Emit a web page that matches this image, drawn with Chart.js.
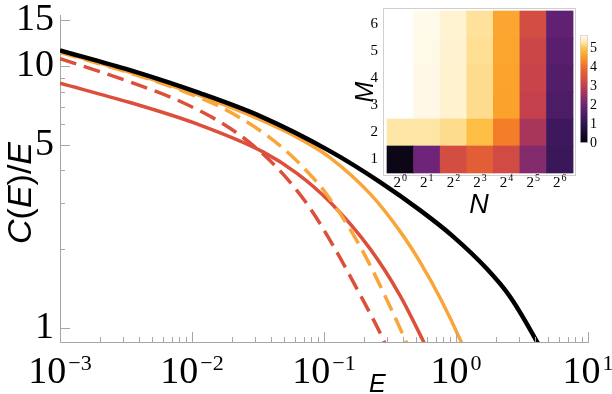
<!DOCTYPE html>
<html>
<head>
<meta charset="utf-8">
<script src="https://cdn.jsdelivr.net/npm/chart.js@4.4.1/dist/chart.umd.min.js"></script>
<style>
  html, body { margin: 0; padding: 0; background: #fff; }
  #wrap { position: relative; width: 612px; height: 394px; overflow: hidden; }
  #wrap canvas { position: absolute; }
</style>
</head>
<body>
<div id="wrap">
  <canvas id="main" width="612" height="394" style="left:0;top:0"></canvas>
  <canvas id="heat" width="240" height="220" style="left:340px;top:0"></canvas>
  <canvas id="cbar" width="42" height="160" style="left:570px;top:20px"></canvas>
</div>
<script>
// curves: E on x, C(E)/E on y
const blackE = [0.001, 0.00339, 0.0115, 0.0328, 0.111, 0.266, 0.533, 0.948, 1.72, 2.56, 4.11, 5.0];
const blackC = [11.5, 9.66, 7.89, 6.45, 4.74, 3.61, 2.82, 2.24, 1.68, 1.32, 0.885, 0.73];
const orangeE = [0.001, 0.00339, 0.0115, 0.0328, 0.0658, 0.111, 0.223, 0.377, 0.533, 0.769, 1.13, 1.3];
const orangeC = [11.4, 9.48, 7.72, 6.25, 5.28, 4.48, 3.26, 2.34, 1.79, 1.285, 0.854, 0.72];
const orangeDashE = [0.001, 0.00339, 0.00811, 0.0194, 0.0465, 0.0826, 0.102, 0.157, 0.223, 0.411, 0.47];
const orangeDashC = [11.3, 9.43, 8.12, 6.69, 4.97, 3.75, 3.30, 2.39, 1.74, 0.905, 0.776];
const redE = [0.001, 0.00339, 0.0109, 0.0345, 0.0624, 0.111, 0.223, 0.377, 0.562, 0.65];
const redC = [8.61, 7.27, 6.02, 4.71, 3.90, 3.03, 2.01, 1.33, 0.896, 0.77];
const redDashE = [0.001, 0.00339, 0.00811, 0.0194, 0.0345, 0.0525, 0.0783, 0.117, 0.187, 0.280, 0.32];
const redDashC = [10.7, 8.71, 7.35, 5.80, 4.62, 3.72, 2.87, 2.07, 1.345, 0.906, 0.77];

// axis ticks
const xMajorTicks = [0.001, 0.01, 0.1, 1, 10];
const xExpLabels = ['\u22123', '\u22122', '\u22121', '0', '1'];
const xMinorMant = [2, 3, 4, 5, 6, 7, 8, 9];
const yLabelTicks = [1, 5, 10, 15];
const yMinorTicks = [2, 3, 4, 6, 7, 8, 9];

// inset heatmap: rows M = 1..6, columns N = 2^0..2^6
const heatNExp = ['0', '1', '2', '3', '4', '5', '6'];
const heatM = [1, 2, 3, 4, 5, 6];
const heatRow1 = [0.2, 2.05, 3.35, 3.7, 3.28, 2.3, 1.2];
const heatRow2 = [5.3, 5.3, 5.22, 4.95, 4.2, 2.7, 1.28];
const heatRow3 = [null, 5.62, 5.5, 5.22, 4.62, 3.05, 1.5];
const heatRow4 = [null, 5.62, 5.5, 5.22, 4.63, 3.12, 1.6];
const heatRow5 = [null, 5.63, 5.51, 5.24, 4.65, 3.2, 1.72];
const heatRow6 = [null, 5.64, 5.52, 5.26, 4.67, 3.35, 1.84];
const heatRows = [heatRow1, heatRow2, heatRow3, heatRow4, heatRow5, heatRow6];
const cbarTicks = [0, 1, 2, 3, 4, 5];
const cbarMax = 5.7;

// colour scale (black -> purple -> red -> orange -> white)
const cmapVals = [0, 1, 2, 3, 4, 4.5, 5, 5.3, 5.7];
const cmapCols = ['#050208', '#2d1450', '#6a237a', '#c23e4e', '#f06c2c', '#fa9822', '#fdc24a', '#fee6a6', '#fffdf6'];

function hexRgb(h) { return [1, 3, 5].map(i => parseInt(h.slice(i, i + 2), 16)); }
function colorFor(v) {
  let i = 0;
  while (i < cmapVals.length - 2 && v > cmapVals[i + 1]) i++;
  const t = Math.max(0, Math.min(1, (v - cmapVals[i]) / (cmapVals[i + 1] - cmapVals[i])));
  const a = hexRgb(cmapCols[i]), b = hexRgb(cmapCols[i + 1]);
  const c = a.map((x, k) => Math.round(x + (b[k] - x) * t));
  return 'rgb(' + c.join(',') + ')';
}

const SERIF = '"Liberation Serif", "Times New Roman", serif';
const SANS = '"Liberation Sans", Arial, sans-serif';
const RED = '#dc4f3b';
const ORANGE = '#f9a53a';
const AXIS = '#a6a6a6';

const pts = (xs, ys) => xs.map((x, i) => ({ x: x, y: ys[i] }));

function line(data, color, width, dash) {
  return {
    data: data, borderColor: color, borderWidth: width, borderDash: dash || [],
    showLine: true, pointRadius: 0, fill: false, clip: 0,
    cubicInterpolationMode: 'monotone'
  };
}

const noPad = s => { s.paddingTop = 0; s.paddingBottom = 0; s.paddingLeft = 0; s.paddingRight = 0; };

const mainDecor = {
  id: 'mainDecor',
  afterDraw(chart) {
    const { ctx, chartArea: a, scales: { x, y } } = chart;
    ctx.save();
    ctx.strokeStyle = AXIS;
    ctx.lineWidth = 1;
    ctx.beginPath();
    xMajorTicks.forEach(v => {
      const px = Math.round(x.getPixelForValue(v)) + 0.5;
      ctx.moveTo(px, a.bottom); ctx.lineTo(px, a.bottom - 10);
    });
    xMajorTicks.slice(0, -1).forEach(d => xMinorMant.forEach(m => {
      const px = Math.round(x.getPixelForValue(d * m)) + 0.5;
      ctx.moveTo(px, a.bottom); ctx.lineTo(px, a.bottom - 5);
    }));
    yLabelTicks.forEach(v => {
      const py = Math.round(y.getPixelForValue(v)) + 0.5;
      ctx.moveTo(a.left, py); ctx.lineTo(a.left + 10, py);
    });
    yMinorTicks.forEach(v => {
      const py = Math.round(y.getPixelForValue(v)) + 0.5;
      ctx.moveTo(a.left, py); ctx.lineTo(a.left + 5, py);
    });
    ctx.stroke();

    // x tick labels 10^k
    ctx.fillStyle = '#000';
    ctx.textBaseline = 'alphabetic';
    ctx.textAlign = 'left';
    xMajorTicks.forEach((v, i) => {
      ctx.font = '38px ' + SERIF;
      const wb = ctx.measureText('10').width;
      ctx.font = '22px ' + SERIF;
      const we = ctx.measureText(xExpLabels[i]).width;
      const left = x.getPixelForValue(v) - (wb + 2 + we) / 2;
      ctx.font = '38px ' + SERIF;
      ctx.fillText('10', left, a.bottom + 41);
      ctx.font = '22px ' + SERIF;
      ctx.fillText(xExpLabels[i], left + wb + 2, a.bottom + 28);
    });

    // x title
    ctx.font = 'italic 25px ' + SANS;
    ctx.fillText('E', 369, a.bottom + 50);

    // y title C(E)/E, rotated
    const parts = [['C', true], ['(', false], ['E', true], [')', false], ['/', false], ['E', true]];
    const fontFor = it => (it ? 'italic ' : '') + '34px ' + SANS;
    let total = 0;
    parts.forEach(p => { ctx.font = fontFor(p[1]); total += ctx.measureText(p[0]).width; });
    ctx.translate(19, 193);
    ctx.rotate(-Math.PI / 2);
    let cx = -total / 2;
    parts.forEach(p => {
      ctx.font = fontFor(p[1]);
      ctx.fillText(p[0], cx, 12);
      cx += ctx.measureText(p[0]).width;
    });
    ctx.restore();
  }
};

new Chart(document.getElementById('main'), {
  type: 'scatter',
  data: {
    datasets: [
      line(pts(blackE, blackC), '#000000', 4.5),
      line(pts(orangeE, orangeC), ORANGE, 3.5),
      line(pts(orangeDashE, orangeDashC), ORANGE, 3.5, [17, 8]),
      line(pts(redE, redC), RED, 3.5),
      line(pts(redDashE, redDashC), RED, 3.5, [17, 8])
    ]
  },
  options: {
    responsive: false,
    animation: false,
    layout: { padding: { left: 0, right: 24, top: 15, bottom: 0 } },
    elements: { line: { capBezierPoints: false } },
    plugins: { legend: { display: false }, tooltip: { enabled: false } },
    scales: {
      x: {
        type: 'logarithmic', min: 0.001, max: 10,
        grid: { display: false },
        border: { display: true, color: AXIS, width: 1 },
        ticks: { display: false },
        afterFit: s => { s.height = 52; noPad(s); }
      },
      y: {
        type: 'logarithmic', min: 0.884, max: 15.7,
        grid: { display: false, drawTicks: false },
        border: { display: true, color: AXIS, width: 1 },
        afterBuildTicks: s => { s.ticks = yLabelTicks.map(v => ({ value: v })); },
        ticks: {
          autoSkip: false, padding: 6, color: '#000',
          font: { family: SERIF, size: 38 },
          callback: v => String(v)
        },
        afterFit: s => { s.width = 60; noPad(s); }
      }
    }
  },
  plugins: [mainDecor]
});

// inset heatmap
const heatDecor = {
  id: 'heatDecor',
  afterDraw(chart) {
    const { ctx, chartArea: a, scales: { x } } = chart;
    ctx.save();
    ctx.strokeStyle = '#cfcfcf';
    ctx.lineWidth = 1;
    ctx.strokeRect(Math.round(a.left) + 0.5, Math.round(a.top) + 0.5,
      Math.round(a.right - a.left) - 1, Math.round(a.bottom - a.top));
    ctx.fillStyle = '#000';
    ctx.textBaseline = 'alphabetic';
    ctx.textAlign = 'left';
    heatNExp.forEach((e, i) => {
      ctx.font = '15px ' + SERIF;
      const wb = ctx.measureText('2').width;
      ctx.font = '10px ' + SERIF;
      const we = ctx.measureText(e).width;
      const left = x.getPixelForValue(i) - (wb + 1 + we) / 2;
      ctx.font = '15px ' + SERIF;
      ctx.fillText('2', left, a.bottom + 12);
      ctx.font = '10px ' + SERIF;
      ctx.fillText(e, left + wb + 1, a.bottom + 6);
    });
    ctx.font = 'italic 27px ' + SANS;
    ctx.textAlign = 'center';
    ctx.fillText('N', 139, a.bottom + 38);
    ctx.translate(24, 92);
    ctx.rotate(-Math.PI / 2);
    ctx.font = 'italic 25px ' + SANS;
    ctx.fillText('M', 0, 9);
    ctx.restore();
  }
};

new Chart(document.getElementById('heat'), {
  type: 'bar',
  data: {
    datasets: heatM.map((m, r) => ({
      data: heatRows[r].map((v, i) => ({ x: i, y: [m - 0.5, m + 0.5], v: v })).filter(c => c.v !== null),
      backgroundColor: c => colorFor(c.raw.v),
      borderWidth: 0,
      categoryPercentage: 1,
      barPercentage: 1
    }))
  },
  options: {
    responsive: false,
    animation: false,
    layout: { padding: { left: 0, right: 4, top: 8, bottom: 45 } },
    plugins: { legend: { display: false }, tooltip: { enabled: false } },
    scales: {
      x: {
        type: 'linear', min: -0.65, max: 6.61, stacked: true, offset: false,
        grid: { display: false }, border: { display: false },
        ticks: { display: false },
        afterBuildTicks: s => { s.ticks = heatNExp.map((e, i) => ({ value: i })); },
        afterFit: s => { s.height = 0; noPad(s); }
      },
      y: {
        type: 'linear', min: 0.426, max: 6.61, stacked: false,
        grid: { display: false, drawTicks: false }, border: { display: false },
        afterBuildTicks: s => { s.ticks = heatM.map(v => ({ value: v })); },
        ticks: { padding: 5, color: '#000', font: { family: SERIF, size: 15 }, autoSkip: false },
        afterFit: s => { s.width = 43; noPad(s); }
      }
    }
  },
  plugins: [heatDecor]
});

// colour bar legend
new Chart(document.getElementById('cbar'), {
  type: 'bar',
  data: {
    labels: [''],
    datasets: [{
      data: [[0, cbarMax]],
      backgroundColor: c => {
        const { chart } = c;
        if (!chart.chartArea) return '#888';
        const y = chart.scales.y;
        const g = chart.ctx.createLinearGradient(0, y.getPixelForValue(0), 0, y.getPixelForValue(cbarMax));
        cmapVals.forEach((v, i) => g.addColorStop(v / cbarMax, cmapCols[i]));
        return g;
      },
      borderColor: '#cfcfcf', borderWidth: 1, borderSkipped: false,
      categoryPercentage: 1, barPercentage: 1
    }]
  },
  options: {
    responsive: false,
    animation: false,
    layout: { padding: { left: 10, right: 0, top: 15, bottom: 37 } },
    plugins: { legend: { display: false }, tooltip: { enabled: false } },
    scales: {
      x: { display: false },
      y: {
        position: 'right', min: 0, max: cbarMax,
        grid: { display: false, drawTicks: false }, border: { display: false },
        afterBuildTicks: s => { s.ticks = cbarTicks.map(v => ({ value: v })); },
        ticks: { padding: 2, color: '#000', font: { family: SERIF, size: 14 }, autoSkip: false },
        afterFit: s => { s.width = 24; noPad(s); }
      }
    }
  }
});
</script>
</body>
</html>
